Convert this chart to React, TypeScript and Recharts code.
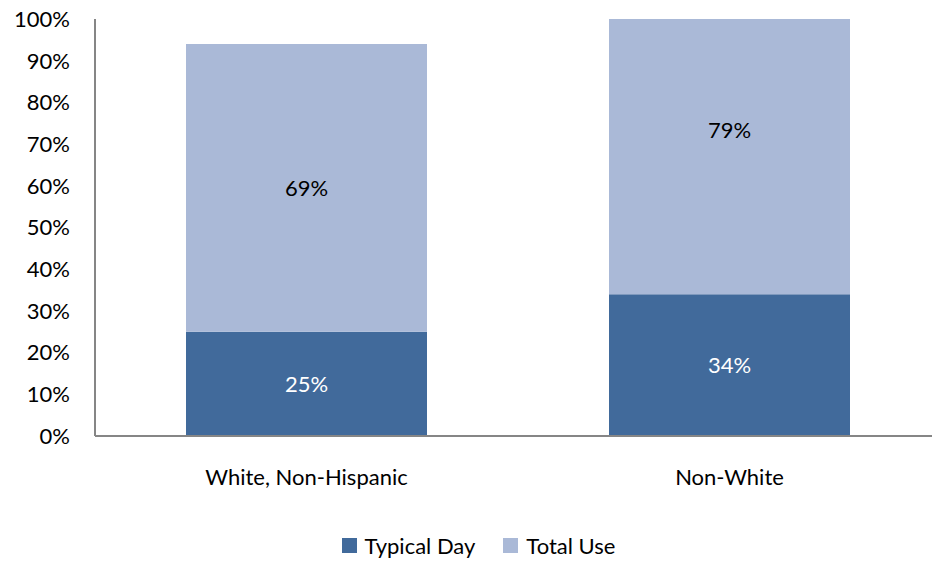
import { BarChart, Bar, XAxis, YAxis, Legend, LabelList } from 'recharts';

const groups = ['White, Non-Hispanic', 'Non-White'];
const typicalDay = [25, 34];
const totalUse = [69, 79];
const yTicks = [0, 10, 20, 30, 40, 50, 60, 70, 80, 90, 100];

const seriesNames = ['Typical Day', 'Total Use'];
const seriesColors = ['#416A9B', '#AAB9D7'];

const data = groups.map((name, i) => ({
  name,
  typical: typicalDay[i],
  total: totalUse[i],
}));

const FONT = 'Lato, "Open Sans", sans-serif';
const FS = 22;
// plot area height in px, used to centre labels on bars that run past 100%
const PLOT_H = 418;

function LegendContent() {
  return (
    <div style={{ display: 'flex', justifyContent: 'center', paddingLeft: 16, fontSize: FS, fontFamily: FONT, color: '#000' }}>
      {seriesNames.map((n, i) => (
        <span key={n} style={{ display: 'flex', alignItems: 'center', marginRight: i === 0 ? 28 : 0 }}>
          <span style={{ width: 15, height: 15, background: seriesColors[i], display: 'inline-block', marginRight: 8 }} />
          {n}
        </span>
      ))}
    </div>
  );
}

// label centred on the full (unclipped) segment, like the original
function OverflowLabel(props: any) {
  const { x, y, width, height, value } = props;
  const bottom = y + height;
  const cy = bottom - (value * PLOT_H) / 100 / 2;
  return (
    <text
      x={x + width / 2}
      y={cy}
      textAnchor="middle"
      dominantBaseline="central"
      fill="#000"
      fontSize={FS}
      fontFamily={FONT}
    >
      {`${value}%`}
    </text>
  );
}

export default function App() {
  return (
    <div style={{ position: 'absolute', left: 0, top: 0, fontFamily: FONT }}>
      <BarChart
        width={932}
        height={561}
        data={data}
        margin={{ top: 19, right: -9, bottom: 2, left: 0 }}
        barSize={241}
      >
        <XAxis
          dataKey="name"
          tickLine={false}
          axisLine={{ stroke: '#868686', strokeWidth: 2 }}
          tick={{ fill: '#000', fontSize: FS, fontFamily: FONT }}
          tickMargin={27}
          height={96}
        />
        <YAxis
          type="number"
          domain={[0, 100]}
          allowDataOverflow
          ticks={yTicks}
          tickFormatter={(v: number) => `${v}%`}
          tickLine={false}
          axisLine={{ stroke: '#868686', strokeWidth: 2 }}
          tick={{ fill: '#000', fontSize: FS, fontFamily: FONT }}
          tickMargin={19}
          width={95}
        />
        <Legend verticalAlign="bottom" align="center" content={<LegendContent />} />
        <Bar dataKey="typical" name={seriesNames[0]} stackId="a" fill={seriesColors[0]} isAnimationActive={false}>
          <LabelList
            dataKey="typical"
            position="center"
            formatter={(v: number) => `${v}%`}
            style={{ fill: '#fff', fontSize: FS, fontFamily: FONT }}
          />
        </Bar>
        <Bar dataKey="total" name={seriesNames[1]} stackId="a" fill={seriesColors[1]} isAnimationActive={false}>
          <LabelList dataKey="total" content={<OverflowLabel />} />
        </Bar>
      </BarChart>
    </div>
  );
}
